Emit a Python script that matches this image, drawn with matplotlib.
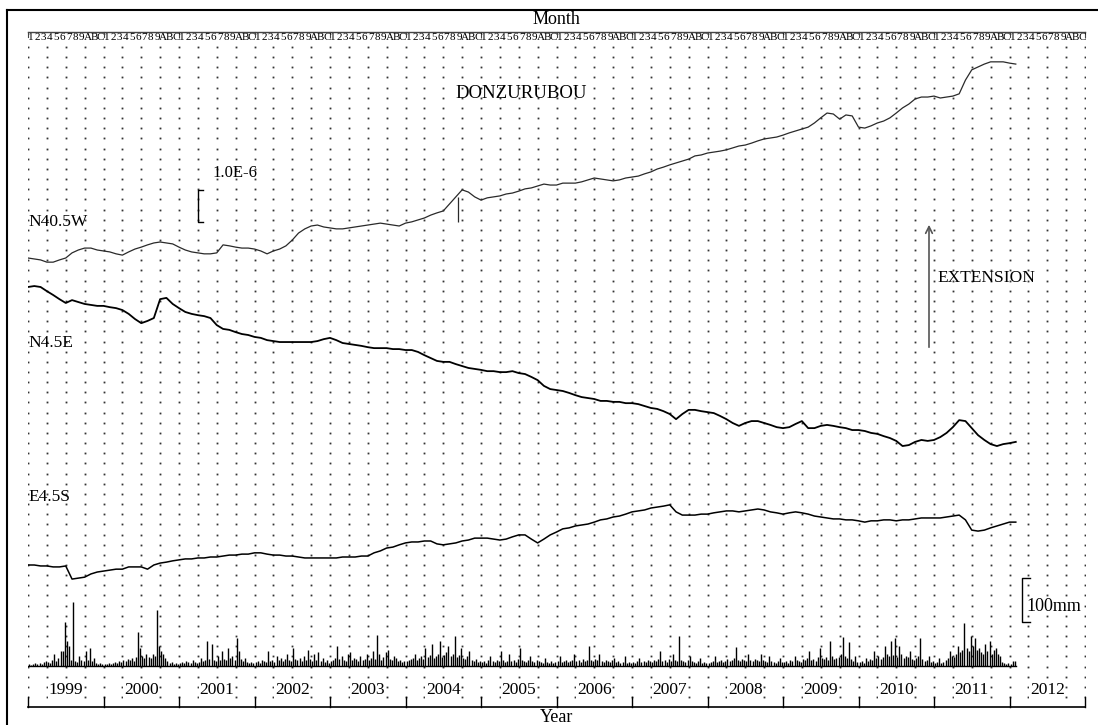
import numpy as np
import matplotlib.pyplot as plt
from matplotlib.lines import Line2D

plt.rcParams['font.family'] = ['Liberation Serif', 'DejaVu Serif']

### data ###
years = list(range(1999, 2013))
month_chars = ['1', '2', '3', '4', '5', '6', '7', '8', '9', 'A', 'B', 'C']

# strain, units of 1.0E-6 relative to Jan 1999 (extension positive), one value per month
# from Jan 1999 to Feb 2012
n40_v = [0.00, -0.03, -0.06, -0.13, -0.13, -0.06, 0.00, 0.16, 0.25, 0.31, 0.31, 0.25,
         0.22, 0.19, 0.13, 0.09, 0.19, 0.28, 0.34, 0.41, 0.47, 0.50, 0.47, 0.44,
         0.34, 0.25, 0.19, 0.16, 0.13, 0.13, 0.16, 0.41, 0.38, 0.34, 0.31, 0.31,
         0.28, 0.22, 0.13, 0.22, 0.28, 0.38, 0.56, 0.78, 0.91, 1.00, 1.03, 0.97,
         0.94, 0.91, 0.91, 0.94, 0.97, 1.00, 1.03, 1.06, 1.09, 1.06, 1.03, 1.00,
         1.09, 1.13, 1.19, 1.25, 1.34, 1.41, 1.47, 1.69, 1.91, 2.13, 2.06, 1.91,
         1.81, 1.88, 1.91, 1.94, 2.00, 2.03, 2.09, 2.16, 2.19, 2.25, 2.31, 2.28,
         2.28, 2.34, 2.34, 2.34, 2.38, 2.44, 2.50, 2.47, 2.44, 2.41, 2.44, 2.50,
         2.53, 2.56, 2.63, 2.69, 2.78, 2.84, 2.91, 2.97, 3.03, 3.09, 3.19, 3.22,
         3.28, 3.31, 3.34, 3.38, 3.44, 3.50, 3.53, 3.59, 3.66, 3.72, 3.75, 3.78,
         3.84, 3.91, 3.97, 4.03, 4.09, 4.22, 4.38, 4.53, 4.50, 4.34, 4.47, 4.44,
         4.09, 4.06, 4.13, 4.22, 4.28, 4.38, 4.53, 4.69, 4.81, 4.97, 5.03, 5.03,
         5.06, 5.00, 5.03, 5.06, 5.13, 5.56, 5.88, 5.97, 6.06, 6.13, 6.13, 6.13,
         6.09, 6.06]
n45_v = [0.00, 0.03, 0.00, -0.13, -0.25, -0.38, -0.50, -0.41, -0.47, -0.53, -0.56, -0.59,
         -0.59, -0.63, -0.66, -0.72, -0.84, -1.00, -1.13, -1.06, -0.97, -0.38, -0.34, -0.53,
         -0.66, -0.78, -0.84, -0.88, -0.91, -0.97, -1.19, -1.31, -1.34, -1.41, -1.47, -1.50,
         -1.56, -1.59, -1.66, -1.69, -1.72, -1.72, -1.72, -1.72, -1.72, -1.72, -1.69, -1.63,
         -1.59, -1.66, -1.75, -1.78, -1.81, -1.84, -1.88, -1.91, -1.91, -1.91, -1.94, -1.94,
         -1.97, -1.97, -2.03, -2.13, -2.22, -2.31, -2.34, -2.34, -2.41, -2.47, -2.53, -2.56,
         -2.59, -2.63, -2.63, -2.66, -2.66, -2.63, -2.69, -2.72, -2.81, -2.91, -3.09, -3.19,
         -3.22, -3.25, -3.31, -3.38, -3.44, -3.47, -3.50, -3.56, -3.56, -3.59, -3.59, -3.63,
         -3.63, -3.66, -3.72, -3.78, -3.81, -3.88, -3.97, -4.13, -3.97, -3.84, -3.84, -3.88,
         -3.91, -3.94, -4.03, -4.13, -4.25, -4.34, -4.25, -4.19, -4.19, -4.25, -4.31, -4.38,
         -4.41, -4.38, -4.28, -4.19, -4.41, -4.41, -4.34, -4.31, -4.34, -4.38, -4.41, -4.47,
         -4.47, -4.50, -4.56, -4.59, -4.66, -4.72, -4.81, -4.97, -4.94, -4.84, -4.78, -4.81,
         -4.78, -4.69, -4.56, -4.38, -4.16, -4.19, -4.41, -4.63, -4.78, -4.91, -4.97, -4.91,
         -4.88, -4.84]
e45_v = [0.00, 0.00, -0.03, -0.03, -0.06, -0.06, -0.03, -0.44, -0.41, -0.38, -0.28, -0.22,
         -0.19, -0.16, -0.13, -0.13, -0.06, -0.06, -0.06, -0.13, 0.00, 0.06, 0.09, 0.13,
         0.16, 0.19, 0.19, 0.22, 0.22, 0.25, 0.25, 0.28, 0.31, 0.31, 0.34, 0.34,
         0.38, 0.38, 0.34, 0.31, 0.31, 0.28, 0.28, 0.25, 0.22, 0.22, 0.22, 0.22,
         0.22, 0.22, 0.25, 0.25, 0.25, 0.28, 0.28, 0.38, 0.44, 0.53, 0.56, 0.63,
         0.69, 0.72, 0.72, 0.75, 0.75, 0.66, 0.63, 0.66, 0.69, 0.75, 0.78, 0.84,
         0.84, 0.84, 0.81, 0.78, 0.81, 0.88, 0.94, 0.94, 0.81, 0.69, 0.81, 0.94,
         1.03, 1.13, 1.16, 1.22, 1.25, 1.28, 1.34, 1.41, 1.44, 1.50, 1.53, 1.59,
         1.66, 1.69, 1.72, 1.78, 1.81, 1.84, 1.88, 1.66, 1.56, 1.56, 1.56, 1.59,
         1.59, 1.63, 1.66, 1.69, 1.69, 1.66, 1.69, 1.72, 1.75, 1.72, 1.66, 1.63,
         1.59, 1.63, 1.66, 1.63, 1.59, 1.53, 1.50, 1.47, 1.44, 1.44, 1.41, 1.41,
         1.38, 1.34, 1.38, 1.38, 1.41, 1.41, 1.38, 1.41, 1.41, 1.44, 1.47, 1.47,
         1.47, 1.47, 1.50, 1.53, 1.56, 1.41, 1.09, 1.06, 1.09, 1.16, 1.22, 1.28,
         1.34, 1.34]

# short offset spike on N40.5W in autumn 2004
spike_t = [2004.70]
spike_top = [1.91]
spike_bottom = [1.13]

# precipitation, mm per 10-day period (36 per year)
rain_1999 = [5, 2, 5, 7, 5, 7, 5, 9, 11, 9, 7, 14, 27, 11, 18, 34, 34, 100,
             57, 45, 14, 145, 11, 9, 23, 14, 11, 34, 14, 41, 11, 18, 7, 5, 7, 5]
rain_2000 = [5, 5, 7, 5, 7, 9, 7, 11, 9, 14, 11, 16, 14, 18, 11, 20, 77, 41,
             23, 18, 27, 20, 18, 27, 23, 127, 45, 34, 27, 18, 11, 7, 9, 5, 7, 5]
rain_2001 = [7, 9, 7, 11, 9, 7, 14, 9, 7, 9, 18, 11, 14, 57, 16, 50, 14, 11,
             23, 14, 34, 16, 14, 41, 18, 23, 14, 64, 34, 16, 11, 18, 9, 7, 9, 7]
rain_2002 = [9, 11, 7, 14, 11, 9, 34, 11, 14, 9, 23, 14, 18, 11, 16, 27, 14, 11,
             41, 16, 14, 18, 11, 23, 14, 36, 16, 11, 27, 14, 32, 11, 18, 9, 14, 7]
rain_2003 = [11, 14, 18, 45, 16, 23, 14, 11, 27, 32, 14, 18, 16, 11, 23, 14, 16, 27,
             14, 18, 34, 16, 70, 27, 14, 20, 32, 36, 16, 14, 23, 18, 11, 14, 9, 11]
rain_2004 = [11, 14, 16, 18, 27, 14, 18, 23, 16, 41, 20, 25, 50, 18, 23, 27, 57, 20,
             25, 32, 45, 23, 27, 68, 20, 25, 41, 18, 16, 23, 34, 14, 11, 16, 9, 11]
rain_2005 = [9, 11, 7, 14, 23, 11, 9, 14, 11, 34, 14, 9, 11, 27, 11, 14, 9, 16,
             41, 14, 11, 9, 14, 23, 11, 9, 14, 11, 9, 7, 18, 9, 7, 11, 7, 9]
rain_2006 = [11, 23, 9, 11, 14, 9, 11, 14, 27, 11, 14, 9, 16, 11, 14, 45, 14, 11,
             16, 14, 27, 11, 9, 14, 11, 9, 14, 18, 9, 11, 7, 9, 23, 7, 9, 7]
rain_2007 = [9, 7, 11, 18, 9, 11, 9, 14, 11, 9, 14, 11, 16, 34, 11, 14, 9, 16,
             11, 27, 14, 11, 68, 14, 11, 9, 14, 23, 11, 9, 7, 11, 18, 7, 9, 7]
rain_2008 = [7, 9, 11, 23, 9, 11, 14, 9, 11, 16, 11, 14, 18, 43, 14, 11, 16, 14,
             11, 27, 14, 11, 16, 14, 11, 27, 14, 11, 9, 23, 11, 9, 7, 11, 18, 9]
rain_2009 = [9, 11, 7, 14, 11, 23, 14, 11, 9, 16, 14, 18, 34, 14, 16, 11, 20, 41,
             18, 16, 20, 14, 57, 23, 16, 18, 20, 27, 66, 23, 18, 55, 16, 11, 23, 9]
rain_2010 = [9, 11, 7, 18, 11, 16, 14, 34, 18, 23, 16, 20, 45, 27, 23, 57, 25, 64,
             20, 45, 27, 18, 23, 20, 34, 16, 14, 18, 23, 64, 16, 11, 14, 23, 9, 11]
rain_2011 = [7, 9, 18, 7, 9, 14, 18, 34, 23, 20, 27, 45, 32, 36, 98, 41, 34, 68,
             45, 64, 36, 41, 32, 27, 50, 34, 57, 27, 36, 41, 27, 23, 9, 7, 5, 7]
rain_2012 = [5, 11, 11]

rain_mm = (rain_1999 + rain_2000 + rain_2001 + rain_2002 + rain_2003 + rain_2004 + rain_2005
           + rain_2006 + rain_2007 + rain_2008 + rain_2009 + rain_2010 + rain_2011 + rain_2012)
rain_t = 1999 + (np.arange(len(rain_mm)) + 0.5) / 36.0
strain_t = 1999 + np.arange(len(n40_v)) / 12.0

### layout (pixels of the 1098x725 picture) ###
W, H = 1098, 725
X0, X1 = 28, 1085          # 1999.0 .. 2013.0
YB, YT = 707, 10           # year axis line, top frame
PX_STRAIN = 32.0           # pixels for 1.0E-6
PX_MM = 0.44               # pixels per mm of rain
RAIN_BASE = 666

def py(y):                 # picture row -> strain axis units
    return (YB - y) / PX_STRAIN

def px(x):                 # picture column -> decimal year
    return 1999 + (x - X0) * 14.0 / (X1 - X0)

fig = plt.figure(figsize=(W / 100, H / 100), dpi=100)
ax = fig.add_axes([X0 / W, (H - YB) / H, (X1 - X0) / W, (YB - YT) / H])
ax.set_xlim(1999, 2013)
ax.set_ylim(0, (YB - YT) / PX_STRAIN)
ax.axis('off')

axr = ax.twinx()
axr.set_ylim(-(YB - RAIN_BASE) / PX_MM, (RAIN_BASE - YT) / PX_MM)
axr.axis('off')

# dot lattice (every 3 months, every ~10 px)
qx = np.arange(1999, 2013.001, 0.25)
qy = py(np.linspace(47, 697, 65))
gx, gy = np.meshgrid(qx, qy)
ax.plot(gx.ravel(), gy.ravel(), ls='none', marker='s', ms=1.3, mew=0, color='#333333', zorder=1)

# strain traces
ax.plot(strain_t, py(258) + np.array(n40_v), color='#2a2a2a', lw=0.9, zorder=3)
ax.vlines(spike_t, py(258) + np.array(spike_bottom), py(258) + np.array(spike_top),
          color='#2a2a2a', lw=0.9, zorder=3)
ax.plot(strain_t, py(287) + np.array(n45_v), color='k', lw=1.3, zorder=3)
ax.plot(strain_t, py(565) + np.array(e45_v), color='k', lw=1.1, zorder=3)

# precipitation
axr.vlines(rain_t, 0, rain_mm, color='k', lw=1.0, zorder=3)
axr.plot([1999, rain_t[-1] + 0.02], [0, 0], color='k', lw=1.0)

# year axis
ax.plot([1999, 2013], [0, 0], color='k', lw=1.2, clip_on=False)
for y in years + [2013]:
    ax.plot([y, y], [0, 10 / PX_STRAIN], color='k', lw=1.0, clip_on=False)
for y in years:
    ax.text(y + 0.5, py(690), str(y), ha='center', va='center', fontsize=12.5,
            bbox=dict(facecolor='white', edgecolor='none', pad=0.5), zorder=4)
ax.text(2006, py(717), 'Year', ha='center', va='center', fontsize=13)

# month row at top
ax.plot([1999, 2013], [py(32), py(32)], color='#444444', lw=1.0, clip_on=False)
for y in years + [2013]:
    ax.plot([y, y], [py(32), py(37)], color='#444444', lw=0.8, clip_on=False)
for i, y in enumerate(years):
    for m, ch in enumerate(month_chars):
        ax.text(y + (m + 0.5) / 12.0, py(38), ch, ha='center', va='center',
                fontsize=8, color='k')
ax.text(2006, py(20), 'Month', ha='center', va='center', fontsize=13)

# labels
ax.text(1999, py(222), 'N40.5W', ha='left', va='center', fontsize=12.5)
ax.text(1999, py(343), 'N4.5E', ha='left', va='center', fontsize=12.5)
ax.text(1999, py(497), 'E4.5S', ha='left', va='center', fontsize=12.5)
ax.text(px(521), py(93), 'DONZURUBOU', ha='center', va='center', fontsize=13.5)

# 1.0E-6 scale bar
sx = px(198)
ax.plot([sx + 0.07, sx, sx, sx + 0.07], [py(222), py(222), py(222) + 1.0, py(222) + 1.0], color='k', lw=1.0)
ax.text(px(212), py(173), '1.0E-6', ha='left', va='center', fontsize=12)

# 100mm scale bar
rx = px(1022)
axr.plot([rx + 0.1, rx, rx, rx + 0.1], [100, 100, 200, 200], color='k', lw=1.0, clip_on=False)
axr.text(px(1026), 136, '100mm', ha='left', va='center', fontsize=13,
         bbox=dict(facecolor='white', edgecolor='none', pad=0.3))

# extension arrow
ax.annotate('', xy=(px(929), py(222)), xytext=(px(929), py(350)),
            arrowprops=dict(arrowstyle='->', color='#555555', lw=1.2, mutation_scale=12))
ax.text(px(937), py(278), 'EXTENSION', ha='left', va='center', fontsize=12.5)

# outer frame
fig.add_artist(Line2D([7 / W, 7 / W], [0, (H - YT) / H], transform=fig.transFigure, color='k', lw=1.5))
fig.add_artist(Line2D([7 / W, 1], [(H - YT) / H, (H - YT) / H], transform=fig.transFigure, color='k', lw=1.5))

fig.savefig('out.png', dpi=100)
